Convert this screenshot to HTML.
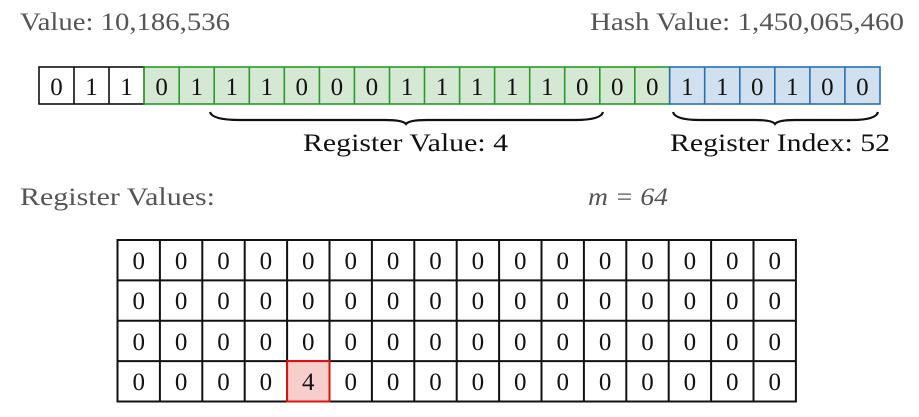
<!DOCTYPE html>
<html><head><meta charset="utf-8"><style>
html,body{margin:0;padding:0;background:#fff;}
svg{display:block;}
text{font-family:"Liberation Serif","DejaVu Serif",serif;}
</style></head><body>
<svg width="919" height="417" xmlns="http://www.w3.org/2000/svg">
<text x="20" y="30" font-size="25" fill="#555" textLength="210" lengthAdjust="spacingAndGlyphs">Value: 10,186,536</text>
<text x="590" y="30" font-size="25" fill="#555" textLength="314" lengthAdjust="spacingAndGlyphs">Hash Value: 1,450,065,460</text>
<g stroke-width="1.6">
<rect x="39" y="67" width="105.1" height="37" fill="#fff" stroke="#111"/>
<line x1="74" y1="67" x2="74" y2="104" stroke="#111"/>
<line x1="109" y1="67" x2="109" y2="104" stroke="#111"/>
<rect x="144.1" y="67" width="525.6" height="37" fill="#d5e8d4" stroke="#2a9a2a"/>
<rect x="669.7" y="67" width="210.3" height="37" fill="#d0e0ee" stroke="#2a6fb0"/>
</g>
<g stroke-width="1.6" stroke="#2a9a2a">
<line x1="179.2" y1="67" x2="179.2" y2="104"/><line x1="214.2" y1="67" x2="214.2" y2="104"/>
<line x1="249.3" y1="67" x2="249.3" y2="104"/><line x1="284.3" y1="67" x2="284.3" y2="104"/>
<line x1="319.4" y1="67" x2="319.4" y2="104"/><line x1="354.4" y1="67" x2="354.4" y2="104"/>
<line x1="389.5" y1="67" x2="389.5" y2="104"/><line x1="424.5" y1="67" x2="424.5" y2="104"/>
<line x1="459.6" y1="67" x2="459.6" y2="104"/><line x1="494.6" y1="67" x2="494.6" y2="104"/>
<line x1="529.7" y1="67" x2="529.7" y2="104"/><line x1="564.7" y1="67" x2="564.7" y2="104"/>
<line x1="599.8" y1="67" x2="599.8" y2="104"/><line x1="634.8" y1="67" x2="634.8" y2="104"/>
</g>
<g stroke-width="1.6" stroke="#2a6fb0">
<line x1="704.7" y1="67" x2="704.7" y2="104"/><line x1="739.8" y1="67" x2="739.8" y2="104"/>
<line x1="774.8" y1="67" x2="774.8" y2="104"/><line x1="809.9" y1="67" x2="809.9" y2="104"/>
<line x1="844.9" y1="67" x2="844.9" y2="104"/>
</g>
<g font-size="25" text-anchor="middle" fill="#111">
<text x="56.5" y="95">0</text><text x="91.5" y="95">1</text><text x="126.5" y="95">1</text>
<text x="161.6" y="95">0</text><text x="196.7" y="95">1</text><text x="231.7" y="95">1</text>
<text x="266.8" y="95">1</text><text x="301.8" y="95">0</text><text x="336.9" y="95">0</text>
<text x="371.9" y="95">0</text><text x="407" y="95">1</text><text x="442" y="95">1</text>
<text x="477.1" y="95">1</text><text x="512.1" y="95">1</text><text x="547.2" y="95">1</text>
<text x="582.2" y="95">0</text><text x="617.3" y="95">0</text><text x="652.3" y="95">0</text>
<text x="687.2" y="95">1</text><text x="722.2" y="95">1</text><text x="757.3" y="95">0</text>
<text x="792.3" y="95">1</text><text x="827.4" y="95">0</text><text x="862.4" y="95">0</text>
</g>
<g fill="none" stroke="#111" stroke-width="2.2">
<path d="M210,112 Q212,120 240,120 L385,120 Q403,120 406,124 Q409,120 427,120 L575,120 Q601,120 603,112"/>
<path d="M673,112 Q675,120 700,120 L755,120 Q772,120 775,124 Q778,120 795,120 L852,120 Q876,120 878,112"/>
</g>
<text x="303" y="151" font-size="25" fill="#111" textLength="205" lengthAdjust="spacingAndGlyphs">Register Value: 4</text>
<text x="670" y="151" font-size="25" fill="#111" textLength="220" lengthAdjust="spacingAndGlyphs">Register Index: 52</text>
<text x="20" y="205" font-size="25" fill="#555" textLength="195" lengthAdjust="spacingAndGlyphs">Register Values:</text>
<text x="588" y="205" font-size="25" fill="#555" font-style="italic" textLength="80" lengthAdjust="spacingAndGlyphs">m = 64</text>
<g stroke="#111" stroke-width="2" fill="none">
<rect x="117.5" y="240" width="678.4" height="161.5" fill="#fff"/>
<line x1="117.5" y1="280.4" x2="795.9" y2="280.4"/>
<line x1="117.5" y1="320.8" x2="795.9" y2="320.8"/>
<line x1="117.5" y1="361.1" x2="795.9" y2="361.1"/>
<path d="M159.9,240V401.5M202.3,240V401.5M244.7,240V401.5M287.1,240V401.5M329.5,240V401.5M371.9,240V401.5M414.3,240V401.5M456.7,240V401.5M499.1,240V401.5M541.5,240V401.5M583.9,240V401.5M626.3,240V401.5M668.7,240V401.5M711.1,240V401.5M753.5,240V401.5"/>
</g>
<rect x="287.1" y="361.1" width="42.4" height="40.4" fill="#f8cecc" stroke="#e01010" stroke-width="2"/>
<g font-size="25" text-anchor="middle" fill="#111">
<text y="269" x="138.7">0</text><text y="269" x="181.1">0</text><text y="269" x="223.5">0</text><text y="269" x="265.9">0</text><text y="269" x="308.3">0</text><text y="269" x="350.7">0</text><text y="269" x="393.1">0</text><text y="269" x="435.5">0</text><text y="269" x="477.9">0</text><text y="269" x="520.3">0</text><text y="269" x="562.7">0</text><text y="269" x="605.1">0</text><text y="269" x="647.5">0</text><text y="269" x="689.9">0</text><text y="269" x="732.3">0</text><text y="269" x="774.7">0</text>
<text y="309" x="138.7">0</text><text y="309" x="181.1">0</text><text y="309" x="223.5">0</text><text y="309" x="265.9">0</text><text y="309" x="308.3">0</text><text y="309" x="350.7">0</text><text y="309" x="393.1">0</text><text y="309" x="435.5">0</text><text y="309" x="477.9">0</text><text y="309" x="520.3">0</text><text y="309" x="562.7">0</text><text y="309" x="605.1">0</text><text y="309" x="647.5">0</text><text y="309" x="689.9">0</text><text y="309" x="732.3">0</text><text y="309" x="774.7">0</text>
<text y="350" x="138.7">0</text><text y="350" x="181.1">0</text><text y="350" x="223.5">0</text><text y="350" x="265.9">0</text><text y="350" x="308.3">0</text><text y="350" x="350.7">0</text><text y="350" x="393.1">0</text><text y="350" x="435.5">0</text><text y="350" x="477.9">0</text><text y="350" x="520.3">0</text><text y="350" x="562.7">0</text><text y="350" x="605.1">0</text><text y="350" x="647.5">0</text><text y="350" x="689.9">0</text><text y="350" x="732.3">0</text><text y="350" x="774.7">0</text>
<text y="390" x="138.7">0</text><text y="390" x="181.1">0</text><text y="390" x="223.5">0</text><text y="390" x="265.9">0</text><text y="390" x="308.3">4</text><text y="390" x="350.7">0</text><text y="390" x="393.1">0</text><text y="390" x="435.5">0</text><text y="390" x="477.9">0</text><text y="390" x="520.3">0</text><text y="390" x="562.7">0</text><text y="390" x="605.1">0</text><text y="390" x="647.5">0</text><text y="390" x="689.9">0</text><text y="390" x="732.3">0</text><text y="390" x="774.7">0</text>
</g>
</svg>
</body></html>
